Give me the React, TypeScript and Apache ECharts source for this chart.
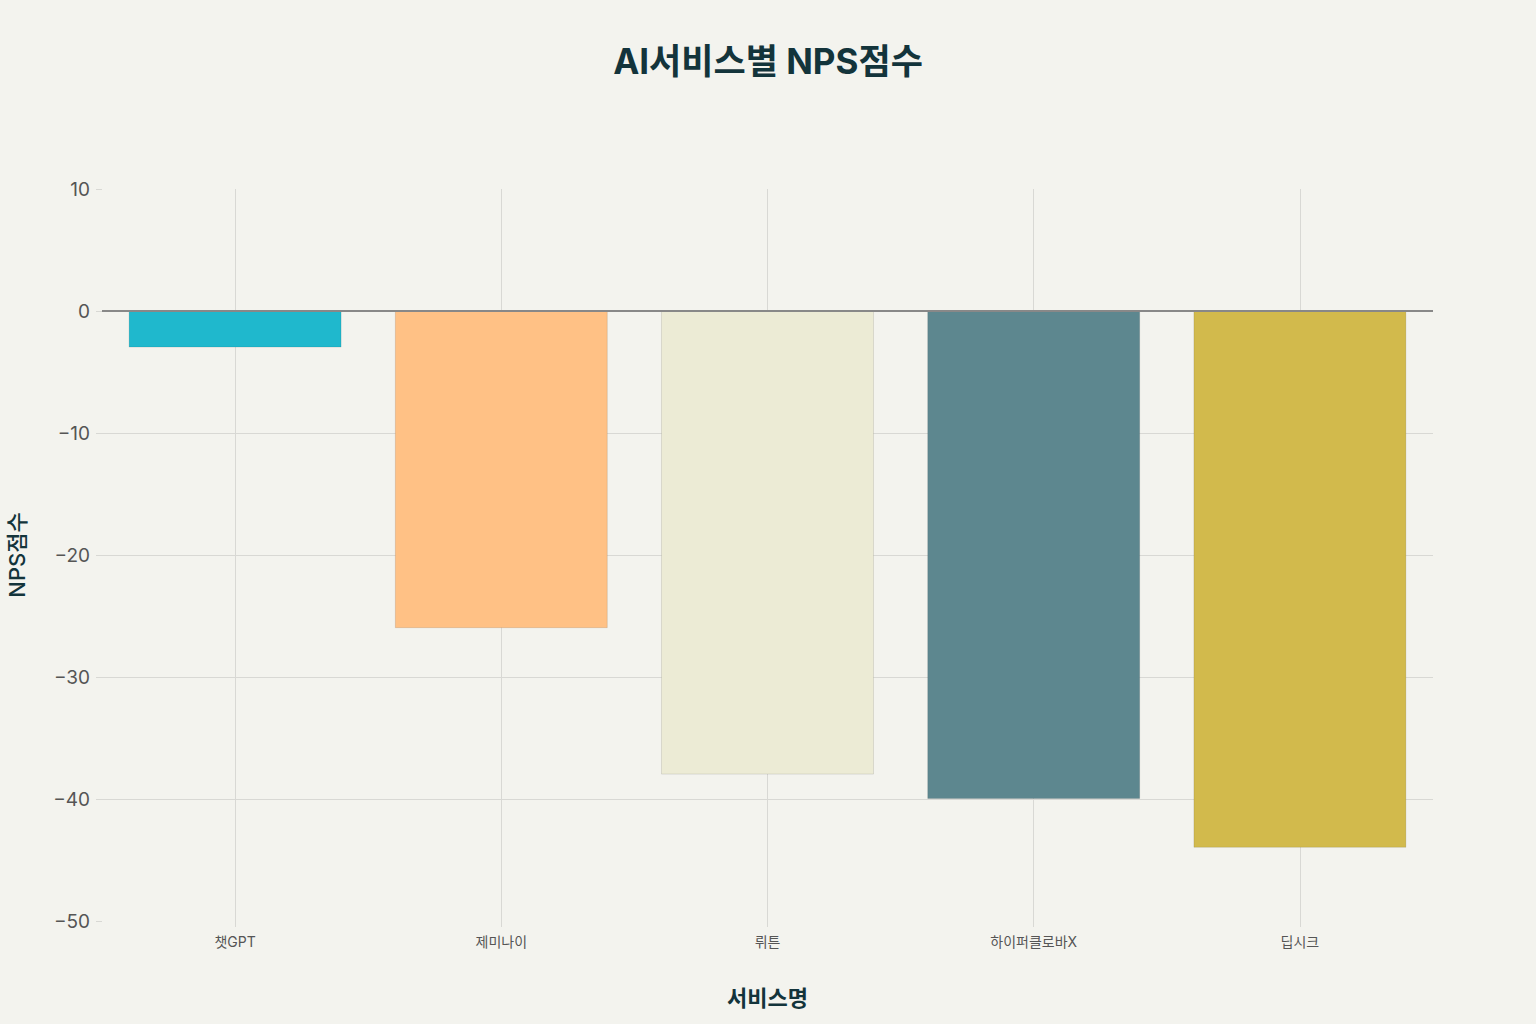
import { useEffect, useRef } from 'react';
import * as echarts from 'echarts';

const services = ['챗GPT', '제미나이', '뤼튼', '하이퍼클로바X', '딥시크'];
const npsScores = [-3, -26, -38, -40, -44];
const barColors = ['#1FB8CD', '#FFC185', '#ECEBD5', '#5D878F', '#D2BA4C'];

const FONT = 'Inter, "Noto Sans CJK KR", "Noto Sans", sans-serif';

export default function App() {
  const chartRef = useRef<HTMLDivElement>(null);

  useEffect(() => {
    if (!chartRef.current) return;
    const chart = echarts.init(chartRef.current, null, { renderer: 'svg' });

    const option: any = {
      animation: false,
      backgroundColor: '#F3F3EE',
      textStyle: { fontFamily: FONT },
      title: {
        text: 'AI서비스별 NPS점수',
        left: 'center',
        top: 38,
        textStyle: {
          fontFamily: FONT,
          fontSize: 35,
          fontWeight: 'bold',
          color: '#13343B',
        },
      },
      grid: { left: 102, right: 103, top: 189, bottom: 103, outerBoundsMode: 'none' },
      xAxis: {
        type: 'category',
        data: services,
        name: '서비스명',
        nameLocation: 'middle',
        nameGap: 66,
        nameTextStyle: { fontFamily: FONT, fontSize: 22, fontWeight: 'bold', color: '#13343B' },
        axisLine: { show: false, onZero: false },
        axisTick: { show: true, alignWithLabel: true, length: 6, lineStyle: { color: '#D8D8D4' } },
        axisLabel: { fontFamily: FONT, fontSize: 14, color: '#555', margin: 13 },
        splitLine: { show: true, alignWithLabel: true, lineStyle: { color: '#D8D8D4', width: 1 } },
      },
      yAxis: {
        type: 'value',
        min: -50,
        max: 10,
        interval: 10,
        name: 'NPS점수',
        nameLocation: 'middle',
        nameGap: 74,
        nameTextStyle: { fontFamily: FONT, fontSize: 22, fontWeight: 500, color: '#13343B' },
        axisLine: { show: false },
        axisTick: { show: true, length: 6, lineStyle: { color: '#D8D8D4' } },
        axisLabel: {
          fontFamily: FONT,
          fontSize: 19,
          color: '#555',
          margin: 12,
          formatter: (v: number) => (v < 0 ? '\u2212' + Math.abs(v) : String(v)),
        },
        splitLine: {
          show: true,
          lineStyle: {
            color: ['transparent', '#D8D8D4', '#D8D8D4', '#D8D8D4', '#D8D8D4', 'transparent', 'transparent'],
            width: 1,
          },
        },
      },
      series: [
        {
          type: 'bar',
          barCategoryGap: '20%',
          data: npsScores.map((v, i) => ({
            value: v,
            itemStyle: { color: barColors[i], borderColor: 'rgba(0,0,0,0.1)', borderWidth: 1 },
          })),
          markLine: {
            silent: true,
            symbol: 'none',
            label: { show: false },
            lineStyle: { color: '#888', width: 2, type: 'solid' },
            data: [{ yAxis: 0 }],
          },
        },
      ],
    };

    chart.setOption(option);
    return () => {
      chart.dispose();
    };
  }, []);

  return (
    <div
      ref={chartRef}
      style={{ position: 'absolute', left: 0, top: 0, width: '1536px', height: '1024px' }}
    />
  );
}
